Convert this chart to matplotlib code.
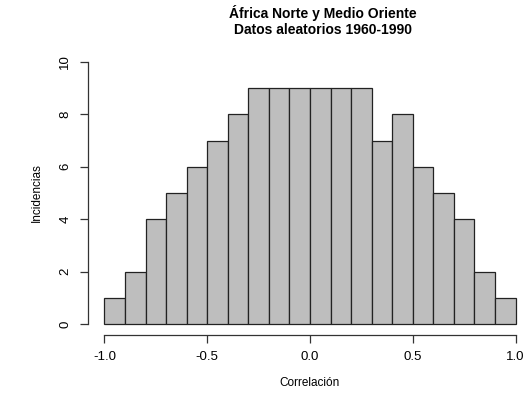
import numpy as np
import matplotlib.pyplot as plt

plt.rcParams["font.family"] = ["Liberation Sans", "DejaVu Sans"]

# histogram counts, bins of width 0.1 from -1 to 1
bin_edges = np.round(np.arange(-1.0, 1.0001, 0.1), 2)
counts = [1, 2, 4, 5, 6, 7, 8, 9, 9, 9, 9, 9, 9, 7, 8, 6, 5, 4, 2, 1]
x_ticks = [-1.0, -0.5, 0.0, 0.5, 1.0]
y_ticks = [0, 2, 4, 6, 8, 10]

fig = plt.figure(figsize=(5.32, 3.98), dpi=100)
ax = fig.add_axes([88 / 532, (398 - 334.5) / 398, 444 / 532, 283 / 398])

ax.bar(bin_edges[:-1], counts, width=0.1, align="edge",
       color="#bebebe", edgecolor="#222222", linewidth=0.9)

ax.set_xlim(-1.08, 1.08)
ax.set_ylim(-0.4, 10.4)

for s in ["top", "right"]:
    ax.spines[s].set_visible(False)
ax.spines["left"].set_bounds(0, 10)
ax.spines["bottom"].set_bounds(-1, 1)
for s in ["left", "bottom"]:
    ax.spines[s].set_color("#333333")
    ax.spines[s].set_linewidth(0.9)

ax.set_xticks(x_ticks)
ax.set_xticklabels([f"{v:.1f}" for v in x_ticks])
ax.set_yticks(y_ticks)
ax.set_yticklabels([str(v) for v in y_ticks], rotation=90, va="center")
ax.tick_params(axis="both", direction="out", length=6, width=0.9,
               color="#333333", labelsize=9.5, pad=6)

ax.set_xlabel("Correlación", fontsize=8.5, labelpad=10)
ax.set_ylabel("Incidencias", fontsize=8.5, labelpad=12)

fig.text(323 / 532, 1 - 21 / 398, "África Norte y Medio Oriente\nDatos aleatorios 1960-1990",
         ha="center", va="center", fontsize=10, fontweight="bold", linespacing=1.25)

fig.savefig("out.png", dpi=100)
